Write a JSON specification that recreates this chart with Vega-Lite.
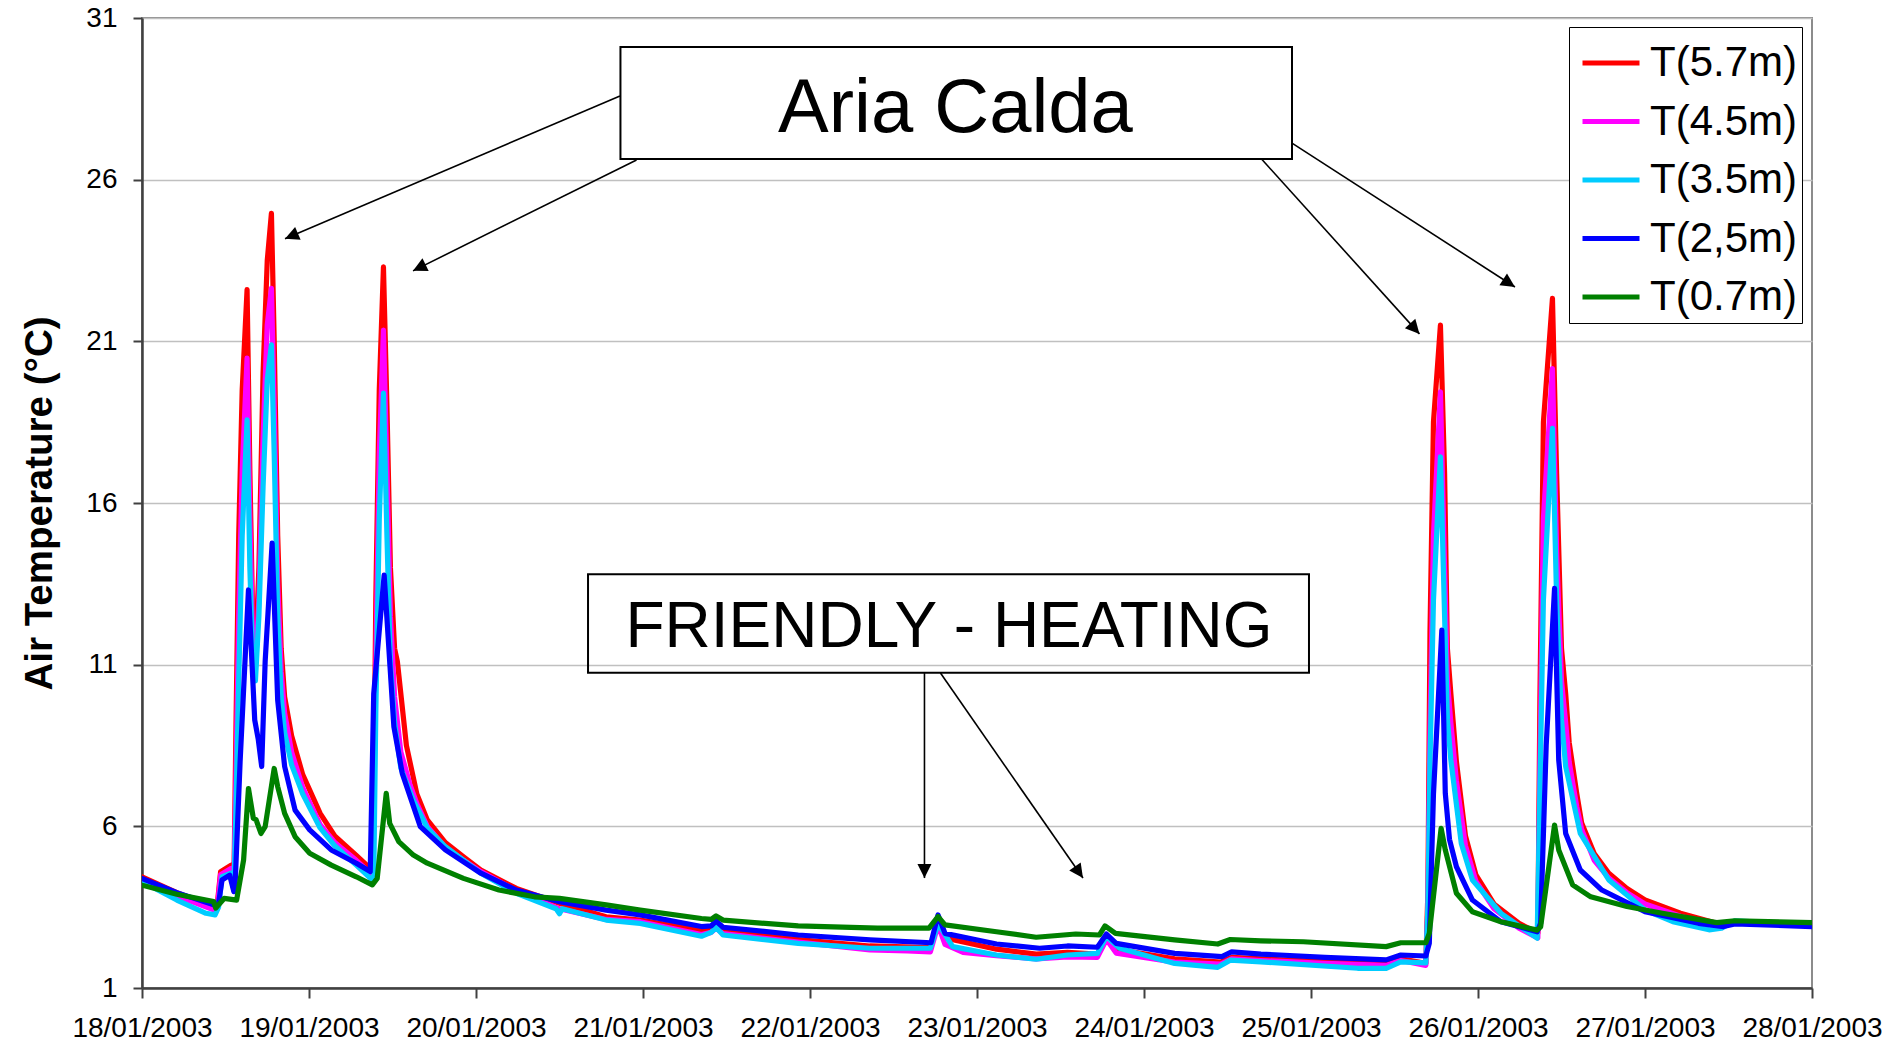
{
"$schema": "https://vega.github.io/schema/vega-lite/v6.json",
"width": 1670, "height": 970,
"autosize": {"type": "none"},
"padding": {"left": 142, "top": 18, "right": 76, "bottom": 55},
"background": "white",
"config": {"font": "Liberation Sans", "view": {"stroke": "#8c8c8c", "strokeWidth": 2}},
"datasets": {
"temps": [
{"s":"T(5.7m)","h":0,"t":4.44},{"s":"T(5.7m)","h":5,"t":3.95},{"s":"T(5.7m)","h":10.3,"t":3.52},{"s":"T(5.7m)","h":10.8,"t":3.55},{"s":"T(5.7m)","h":11.3,"t":4.6},{"s":"T(5.7m)","h":12.8,"t":4.8},{"s":"T(5.7m)","h":13.2,"t":4.15},{"s":"T(5.7m)","h":13.5,"t":9},{"s":"T(5.7m)","h":13.9,"t":15},{"s":"T(5.7m)","h":14.4,"t":19.5},{"s":"T(5.7m)","h":15.1,"t":22.6},{"s":"T(5.7m)","h":15.5,"t":17},{"s":"T(5.7m)","h":15.9,"t":12.5},{"s":"T(5.7m)","h":16.3,"t":11.2},{"s":"T(5.7m)","h":16.8,"t":14},{"s":"T(5.7m)","h":17.4,"t":20},{"s":"T(5.7m)","h":18.0,"t":23.5},{"s":"T(5.7m)","h":18.6,"t":24.96},{"s":"T(5.7m)","h":19.0,"t":21},{"s":"T(5.7m)","h":19.5,"t":15},{"s":"T(5.7m)","h":20.0,"t":11.5},{"s":"T(5.7m)","h":20.5,"t":10},{"s":"T(5.7m)","h":21.5,"t":8.8},{"s":"T(5.7m)","h":23.1,"t":7.6},{"s":"T(5.7m)","h":25.6,"t":6.4},{"s":"T(5.7m)","h":27.7,"t":5.7},{"s":"T(5.7m)","h":30.8,"t":5.1},{"s":"T(5.7m)","h":32.8,"t":4.7},{"s":"T(5.7m)","h":33.2,"t":4.55},{"s":"T(5.7m)","h":33.6,"t":13},{"s":"T(5.7m)","h":34.1,"t":19.5},{"s":"T(5.7m)","h":34.7,"t":23.3},{"s":"T(5.7m)","h":35.2,"t":19},{"s":"T(5.7m)","h":35.7,"t":14},{"s":"T(5.7m)","h":36.3,"t":11.5},{"s":"T(5.7m)","h":36.7,"t":11.1},{"s":"T(5.7m)","h":38,"t":8.5},{"s":"T(5.7m)","h":39.5,"t":7.0},{"s":"T(5.7m)","h":41,"t":6.2},{"s":"T(5.7m)","h":43.6,"t":5.5},{"s":"T(5.7m)","h":46.2,"t":5.06},{"s":"T(5.7m)","h":48.7,"t":4.65},{"s":"T(5.7m)","h":53.8,"t":4.08},{"s":"T(5.7m)","h":60,"t":3.62},{"s":"T(5.7m)","h":66.7,"t":3.2},{"s":"T(5.7m)","h":71.6,"t":3.1},{"s":"T(5.7m)","h":80.4,"t":2.78},{"s":"T(5.7m)","h":81.8,"t":2.8},{"s":"T(5.7m)","h":82.5,"t":2.9},{"s":"T(5.7m)","h":83.5,"t":2.75},{"s":"T(5.7m)","h":94.3,"t":2.5},{"s":"T(5.7m)","h":104.6,"t":2.3},{"s":"T(5.7m)","h":113.3,"t":2.25},{"s":"T(5.7m)","h":114.4,"t":3.1},{"s":"T(5.7m)","h":115.4,"t":2.55},{"s":"T(5.7m)","h":122.8,"t":2.2},{"s":"T(5.7m)","h":128.5,"t":2.05},{"s":"T(5.7m)","h":133,"t":2.1},{"s":"T(5.7m)","h":137.3,"t":2.05},{"s":"T(5.7m)","h":138.6,"t":2.6},{"s":"T(5.7m)","h":140,"t":2.2},{"s":"T(5.7m)","h":148.4,"t":1.9},{"s":"T(5.7m)","h":155,"t":1.8},{"s":"T(5.7m)","h":156.6,"t":1.95},{"s":"T(5.7m)","h":160.8,"t":1.9},{"s":"T(5.7m)","h":170,"t":1.82},{"s":"T(5.7m)","h":178.8,"t":1.75},{"s":"T(5.7m)","h":180.9,"t":1.9},{"s":"T(5.7m)","h":184.5,"t":1.76},{"s":"T(5.7m)","h":184.8,"t":4},{"s":"T(5.7m)","h":185.1,"t":12},{"s":"T(5.7m)","h":185.6,"t":18.5},{"s":"T(5.7m)","h":186.6,"t":21.5},{"s":"T(5.7m)","h":187.2,"t":16.9},{"s":"T(5.7m)","h":187.6,"t":11.5},{"s":"T(5.7m)","h":188.1,"t":10.1},{"s":"T(5.7m)","h":188.9,"t":8.0},{"s":"T(5.7m)","h":190.2,"t":5.7},{"s":"T(5.7m)","h":191.7,"t":4.5},{"s":"T(5.7m)","h":194.3,"t":3.6},{"s":"T(5.7m)","h":197.9,"t":3.0},{"s":"T(5.7m)","h":200.6,"t":2.7},{"s":"T(5.7m)","h":200.9,"t":10},{"s":"T(5.7m)","h":201.4,"t":18.5},{"s":"T(5.7m)","h":202.7,"t":22.33},{"s":"T(5.7m)","h":203.3,"t":16.9},{"s":"T(5.7m)","h":204.0,"t":11.5},{"s":"T(5.7m)","h":204.6,"t":10.1},{"s":"T(5.7m)","h":205.1,"t":8.6},{"s":"T(5.7m)","h":206.2,"t":7.0},{"s":"T(5.7m)","h":206.9,"t":6.1},{"s":"T(5.7m)","h":208.7,"t":5.16},{"s":"T(5.7m)","h":210.8,"t":4.55},{"s":"T(5.7m)","h":213.4,"t":4.08},{"s":"T(5.7m)","h":216,"t":3.72},{"s":"T(5.7m)","h":221.1,"t":3.31},{"s":"T(5.7m)","h":226.3,"t":3.0},{"s":"T(5.7m)","h":228.9,"t":3.05},{"s":"T(5.7m)","h":240,"t":2.95},

{"s":"T(4.5m)","h":0,"t":4.35},{"s":"T(4.5m)","h":5,"t":3.85},{"s":"T(4.5m)","h":10.3,"t":3.42},{"s":"T(4.5m)","h":10.8,"t":3.45},{"s":"T(4.5m)","h":11.3,"t":4.5},{"s":"T(4.5m)","h":12.8,"t":4.7},{"s":"T(4.5m)","h":13.2,"t":4.1},{"s":"T(4.5m)","h":13.5,"t":7.5},{"s":"T(4.5m)","h":13.9,"t":12.5},{"s":"T(4.5m)","h":14.4,"t":17},{"s":"T(4.5m)","h":15.1,"t":20.48},{"s":"T(4.5m)","h":15.5,"t":15.5},{"s":"T(4.5m)","h":15.9,"t":11.8},{"s":"T(4.5m)","h":16.3,"t":10.9},{"s":"T(4.5m)","h":16.8,"t":13},{"s":"T(4.5m)","h":17.4,"t":18},{"s":"T(4.5m)","h":18.0,"t":21.5},{"s":"T(4.5m)","h":18.6,"t":22.64},{"s":"T(4.5m)","h":19.0,"t":19},{"s":"T(4.5m)","h":19.5,"t":13.5},{"s":"T(4.5m)","h":20.0,"t":10.8},{"s":"T(4.5m)","h":20.5,"t":9.5},{"s":"T(4.5m)","h":21.5,"t":8.3},{"s":"T(4.5m)","h":23.1,"t":7.2},{"s":"T(4.5m)","h":25.6,"t":6.05},{"s":"T(4.5m)","h":27.7,"t":5.5},{"s":"T(4.5m)","h":30.8,"t":4.95},{"s":"T(4.5m)","h":32.8,"t":4.55},{"s":"T(4.5m)","h":33.2,"t":4.45},{"s":"T(4.5m)","h":33.6,"t":11},{"s":"T(4.5m)","h":34.1,"t":17.5},{"s":"T(4.5m)","h":34.7,"t":21.35},{"s":"T(4.5m)","h":35.2,"t":17},{"s":"T(4.5m)","h":35.7,"t":12.5},{"s":"T(4.5m)","h":36.3,"t":10},{"s":"T(4.5m)","h":37.2,"t":8.3},{"s":"T(4.5m)","h":38.5,"t":7.3},{"s":"T(4.5m)","h":39.5,"t":6.7},{"s":"T(4.5m)","h":41,"t":6.0},{"s":"T(4.5m)","h":43.6,"t":5.35},{"s":"T(4.5m)","h":46.2,"t":4.95},{"s":"T(4.5m)","h":48.7,"t":4.6},{"s":"T(4.5m)","h":53.8,"t":4.0},{"s":"T(4.5m)","h":60,"t":3.45},{"s":"T(4.5m)","h":66.7,"t":3.12},{"s":"T(4.5m)","h":71.6,"t":3.05},{"s":"T(4.5m)","h":80.4,"t":2.65},{"s":"T(4.5m)","h":81.8,"t":2.72},{"s":"T(4.5m)","h":82.5,"t":2.85},{"s":"T(4.5m)","h":83.5,"t":2.68},{"s":"T(4.5m)","h":94.3,"t":2.42},{"s":"T(4.5m)","h":104.6,"t":2.18},{"s":"T(4.5m)","h":110,"t":2.15},{"s":"T(4.5m)","h":113.3,"t":2.12},{"s":"T(4.5m)","h":114.4,"t":2.95},{"s":"T(4.5m)","h":115.4,"t":2.35},{"s":"T(4.5m)","h":118,"t":2.1},{"s":"T(4.5m)","h":122.8,"t":2.0},{"s":"T(4.5m)","h":128.5,"t":1.9},{"s":"T(4.5m)","h":133,"t":1.96},{"s":"T(4.5m)","h":137.3,"t":1.95},{"s":"T(4.5m)","h":138.6,"t":2.5},{"s":"T(4.5m)","h":140,"t":2.08},{"s":"T(4.5m)","h":148.4,"t":1.8},{"s":"T(4.5m)","h":155,"t":1.74},{"s":"T(4.5m)","h":156.6,"t":1.9},{"s":"T(4.5m)","h":160.8,"t":1.85},{"s":"T(4.5m)","h":170,"t":1.76},{"s":"T(4.5m)","h":178.8,"t":1.7},{"s":"T(4.5m)","h":180.9,"t":1.85},{"s":"T(4.5m)","h":184.5,"t":1.7},{"s":"T(4.5m)","h":184.8,"t":3.5},{"s":"T(4.5m)","h":185.1,"t":9},{"s":"T(4.5m)","h":185.6,"t":15},{"s":"T(4.5m)","h":186.6,"t":19.44},{"s":"T(4.5m)","h":187.2,"t":14},{"s":"T(4.5m)","h":187.6,"t":10.5},{"s":"T(4.5m)","h":188.1,"t":9.2},{"s":"T(4.5m)","h":188.9,"t":7.4},{"s":"T(4.5m)","h":190.2,"t":5.4},{"s":"T(4.5m)","h":191.7,"t":4.3},{"s":"T(4.5m)","h":194.3,"t":3.45},{"s":"T(4.5m)","h":197.9,"t":2.85},{"s":"T(4.5m)","h":200.6,"t":2.55},{"s":"T(4.5m)","h":200.9,"t":8},{"s":"T(4.5m)","h":201.4,"t":15.5},{"s":"T(4.5m)","h":202.7,"t":20.16},{"s":"T(4.5m)","h":203.3,"t":14.5},{"s":"T(4.5m)","h":204.0,"t":10.5},{"s":"T(4.5m)","h":204.6,"t":9.2},{"s":"T(4.5m)","h":205.1,"t":8.0},{"s":"T(4.5m)","h":206.2,"t":6.6},{"s":"T(4.5m)","h":206.9,"t":5.9},{"s":"T(4.5m)","h":208.7,"t":4.95},{"s":"T(4.5m)","h":210.8,"t":4.4},{"s":"T(4.5m)","h":213.4,"t":3.95},{"s":"T(4.5m)","h":216,"t":3.6},{"s":"T(4.5m)","h":221.1,"t":3.22},{"s":"T(4.5m)","h":226.3,"t":2.9},{"s":"T(4.5m)","h":228.9,"t":3.02},{"s":"T(4.5m)","h":240,"t":2.95},

{"s":"T(3.5m)","h":0,"t":4.29},{"s":"T(3.5m)","h":5,"t":3.72},{"s":"T(3.5m)","h":9.2,"t":3.31},{"s":"T(3.5m)","h":10.5,"t":3.26},{"s":"T(3.5m)","h":11.0,"t":3.5},{"s":"T(3.5m)","h":11.5,"t":4.44},{"s":"T(3.5m)","h":12.8,"t":4.55},{"s":"T(3.5m)","h":13.2,"t":4.03},{"s":"T(3.5m)","h":13.5,"t":6.5},{"s":"T(3.5m)","h":13.9,"t":10.5},{"s":"T(3.5m)","h":14.4,"t":15},{"s":"T(3.5m)","h":15.1,"t":18.57},{"s":"T(3.5m)","h":15.5,"t":14},{"s":"T(3.5m)","h":15.9,"t":11.2},{"s":"T(3.5m)","h":16.3,"t":10.5},{"s":"T(3.5m)","h":16.8,"t":12.5},{"s":"T(3.5m)","h":17.4,"t":16.5},{"s":"T(3.5m)","h":18.0,"t":19.8},{"s":"T(3.5m)","h":18.6,"t":20.89},{"s":"T(3.5m)","h":19.0,"t":17.5},{"s":"T(3.5m)","h":19.5,"t":12.5},{"s":"T(3.5m)","h":20.0,"t":10.0},{"s":"T(3.5m)","h":20.5,"t":8.9},{"s":"T(3.5m)","h":21.5,"t":7.9},{"s":"T(3.5m)","h":23.1,"t":7.0},{"s":"T(3.5m)","h":25.6,"t":5.95},{"s":"T(3.5m)","h":27.7,"t":5.4},{"s":"T(3.5m)","h":30.8,"t":4.8},{"s":"T(3.5m)","h":32.8,"t":4.4},{"s":"T(3.5m)","h":33.3,"t":4.3},{"s":"T(3.5m)","h":33.6,"t":9.5},{"s":"T(3.5m)","h":34.1,"t":15.5},{"s":"T(3.5m)","h":34.7,"t":19.4},{"s":"T(3.5m)","h":35.2,"t":15},{"s":"T(3.5m)","h":35.7,"t":11},{"s":"T(3.5m)","h":36.3,"t":9.2},{"s":"T(3.5m)","h":37.2,"t":7.8},{"s":"T(3.5m)","h":39,"t":6.8},{"s":"T(3.5m)","h":41,"t":5.95},{"s":"T(3.5m)","h":43.6,"t":5.37},{"s":"T(3.5m)","h":48.7,"t":4.55},{"s":"T(3.5m)","h":53.8,"t":3.93},{"s":"T(3.5m)","h":59.5,"t":3.45},{"s":"T(3.5m)","h":60,"t":3.3},{"s":"T(3.5m)","h":60.4,"t":3.45},{"s":"T(3.5m)","h":66.7,"t":3.1},{"s":"T(3.5m)","h":71.6,"t":3.0},{"s":"T(3.5m)","h":80.4,"t":2.6},{"s":"T(3.5m)","h":81.8,"t":2.72},{"s":"T(3.5m)","h":82.5,"t":2.88},{"s":"T(3.5m)","h":83.5,"t":2.64},{"s":"T(3.5m)","h":94.3,"t":2.38},{"s":"T(3.5m)","h":104.6,"t":2.23},{"s":"T(3.5m)","h":113.3,"t":2.23},{"s":"T(3.5m)","h":114.4,"t":2.99},{"s":"T(3.5m)","h":116.5,"t":2.28},{"s":"T(3.5m)","h":122.8,"t":2.02},{"s":"T(3.5m)","h":128.5,"t":1.89},{"s":"T(3.5m)","h":133,"t":2.02},{"s":"T(3.5m)","h":137.3,"t":2.07},{"s":"T(3.5m)","h":138.6,"t":2.59},{"s":"T(3.5m)","h":140.5,"t":2.23},{"s":"T(3.5m)","h":148.4,"t":1.76},{"s":"T(3.5m)","h":154.6,"t":1.64},{"s":"T(3.5m)","h":156.4,"t":1.86},{"s":"T(3.5m)","h":160.8,"t":1.81},{"s":"T(3.5m)","h":174.7,"t":1.61},{"s":"T(3.5m)","h":178.8,"t":1.61},{"s":"T(3.5m)","h":180.9,"t":1.81},{"s":"T(3.5m)","h":184.5,"t":1.78},{"s":"T(3.5m)","h":184.8,"t":3.5},{"s":"T(3.5m)","h":185.1,"t":8},{"s":"T(3.5m)","h":185.6,"t":13},{"s":"T(3.5m)","h":186.6,"t":17.43},{"s":"T(3.5m)","h":187.2,"t":12.5},{"s":"T(3.5m)","h":187.6,"t":9.3},{"s":"T(3.5m)","h":188.1,"t":8.05},{"s":"T(3.5m)","h":189.6,"t":5.47},{"s":"T(3.5m)","h":191.2,"t":4.34},{"s":"T(3.5m)","h":195.3,"t":3.31},{"s":"T(3.5m)","h":200.5,"t":2.54},{"s":"T(3.5m)","h":200.8,"t":6},{"s":"T(3.5m)","h":201.4,"t":13},{"s":"T(3.5m)","h":202.7,"t":18.31},{"s":"T(3.5m)","h":203.3,"t":13},{"s":"T(3.5m)","h":204.0,"t":9.3},{"s":"T(3.5m)","h":204.6,"t":7.85},{"s":"T(3.5m)","h":206.7,"t":5.78},{"s":"T(3.5m)","h":210.8,"t":4.34},{"s":"T(3.5m)","h":216,"t":3.41},{"s":"T(3.5m)","h":220,"t":3.05},{"s":"T(3.5m)","h":225.2,"t":2.8},{"s":"T(3.5m)","h":227,"t":2.85},{"s":"T(3.5m)","h":228.9,"t":3.08},{"s":"T(3.5m)","h":240,"t":2.95},

{"s":"T(2,5m)","h":0,"t":4.39},{"s":"T(2,5m)","h":5,"t":3.95},{"s":"T(2,5m)","h":10.3,"t":3.57},{"s":"T(2,5m)","h":11.0,"t":3.62},{"s":"T(2,5m)","h":11.5,"t":4.34},{"s":"T(2,5m)","h":12.6,"t":4.49},{"s":"T(2,5m)","h":13.2,"t":3.98},{"s":"T(2,5m)","h":13.4,"t":4.3},{"s":"T(2,5m)","h":14.1,"t":8.0},{"s":"T(2,5m)","h":15.3,"t":13.31},{"s":"T(2,5m)","h":16.2,"t":9.29},{"s":"T(2,5m)","h":16.7,"t":8.7},{"s":"T(2,5m)","h":17.2,"t":7.85},{"s":"T(2,5m)","h":17.7,"t":11.1},{"s":"T(2,5m)","h":18.7,"t":14.76},{"s":"T(2,5m)","h":19.5,"t":9.9},{"s":"T(2,5m)","h":20.5,"t":7.85},{"s":"T(2,5m)","h":22,"t":6.5},{"s":"T(2,5m)","h":24.1,"t":5.89},{"s":"T(2,5m)","h":27.2,"t":5.27},{"s":"T(2,5m)","h":30.8,"t":4.86},{"s":"T(2,5m)","h":32.8,"t":4.6},{"s":"T(2,5m)","h":33.3,"t":10.1},{"s":"T(2,5m)","h":34.8,"t":13.77},{"s":"T(2,5m)","h":36.2,"t":9.08},{"s":"T(2,5m)","h":37.4,"t":7.64},{"s":"T(2,5m)","h":40,"t":5.99},{"s":"T(2,5m)","h":43.6,"t":5.27},{"s":"T(2,5m)","h":48.7,"t":4.55},{"s":"T(2,5m)","h":53.8,"t":4.03},{"s":"T(2,5m)","h":60,"t":3.67},{"s":"T(2,5m)","h":66.7,"t":3.41},{"s":"T(2,5m)","h":71.6,"t":3.26},{"s":"T(2,5m)","h":80.4,"t":2.9},{"s":"T(2,5m)","h":81.8,"t":2.92},{"s":"T(2,5m)","h":82.5,"t":3.07},{"s":"T(2,5m)","h":83.5,"t":2.88},{"s":"T(2,5m)","h":94.3,"t":2.64},{"s":"T(2,5m)","h":104.6,"t":2.49},{"s":"T(2,5m)","h":113.4,"t":2.4},{"s":"T(2,5m)","h":114.4,"t":3.26},{"s":"T(2,5m)","h":115.4,"t":2.69},{"s":"T(2,5m)","h":122.8,"t":2.36},{"s":"T(2,5m)","h":129,"t":2.23},{"s":"T(2,5m)","h":133,"t":2.3},{"s":"T(2,5m)","h":137.3,"t":2.26},{"s":"T(2,5m)","h":138.6,"t":2.67},{"s":"T(2,5m)","h":140,"t":2.38},{"s":"T(2,5m)","h":148.4,"t":2.07},{"s":"T(2,5m)","h":155.2,"t":1.97},{"s":"T(2,5m)","h":156.6,"t":2.12},{"s":"T(2,5m)","h":160.8,"t":2.05},{"s":"T(2,5m)","h":170,"t":1.95},{"s":"T(2,5m)","h":178.8,"t":1.87},{"s":"T(2,5m)","h":180.9,"t":2.02},{"s":"T(2,5m)","h":184.5,"t":1.99},{"s":"T(2,5m)","h":185,"t":2.38},{"s":"T(2,5m)","h":185.6,"t":7.0},{"s":"T(2,5m)","h":186.8,"t":12.07},{"s":"T(2,5m)","h":187.3,"t":7.02},{"s":"T(2,5m)","h":187.9,"t":5.6},{"s":"T(2,5m)","h":188.9,"t":4.75},{"s":"T(2,5m)","h":191.2,"t":3.72},{"s":"T(2,5m)","h":195.3,"t":3.05},{"s":"T(2,5m)","h":200.5,"t":2.74},{"s":"T(2,5m)","h":201,"t":3.0},{"s":"T(2,5m)","h":201.8,"t":8.5},{"s":"T(2,5m)","h":203,"t":13.36},{"s":"T(2,5m)","h":203.6,"t":8.05},{"s":"T(2,5m)","h":204.6,"t":5.78},{"s":"T(2,5m)","h":206.7,"t":4.65},{"s":"T(2,5m)","h":209.8,"t":4.03},{"s":"T(2,5m)","h":216,"t":3.36},{"s":"T(2,5m)","h":223.7,"t":3.0},{"s":"T(2,5m)","h":227.3,"t":2.9},{"s":"T(2,5m)","h":228.9,"t":2.98},{"s":"T(2,5m)","h":240,"t":2.9},

{"s":"T(0.7m)","h":0,"t":4.18},{"s":"T(0.7m)","h":5,"t":3.9},{"s":"T(0.7m)","h":10.3,"t":3.67},{"s":"T(0.7m)","h":10.6,"t":3.47},{"s":"T(0.7m)","h":11.8,"t":3.77},{"s":"T(0.7m)","h":13.6,"t":3.72},{"s":"T(0.7m)","h":14.6,"t":4.96},{"s":"T(0.7m)","h":15.3,"t":7.17},{"s":"T(0.7m)","h":16.0,"t":6.25},{"s":"T(0.7m)","h":16.4,"t":6.2},{"s":"T(0.7m)","h":17.1,"t":5.78},{"s":"T(0.7m)","h":17.7,"t":5.99},{"s":"T(0.7m)","h":19.0,"t":7.79},{"s":"T(0.7m)","h":19.5,"t":7.23},{"s":"T(0.7m)","h":20.5,"t":6.4},{"s":"T(0.7m)","h":22,"t":5.68},{"s":"T(0.7m)","h":24.1,"t":5.17},{"s":"T(0.7m)","h":27.2,"t":4.8},{"s":"T(0.7m)","h":30.8,"t":4.44},{"s":"T(0.7m)","h":33.1,"t":4.19},{"s":"T(0.7m)","h":33.8,"t":4.39},{"s":"T(0.7m)","h":35.1,"t":7.02},{"s":"T(0.7m)","h":35.6,"t":6.09},{"s":"T(0.7m)","h":36.9,"t":5.53},{"s":"T(0.7m)","h":39,"t":5.11},{"s":"T(0.7m)","h":41,"t":4.86},{"s":"T(0.7m)","h":46.2,"t":4.39},{"s":"T(0.7m)","h":51.3,"t":4.03},{"s":"T(0.7m)","h":56.4,"t":3.82},{"s":"T(0.7m)","h":60,"t":3.77},{"s":"T(0.7m)","h":66.7,"t":3.57},{"s":"T(0.7m)","h":71.6,"t":3.41},{"s":"T(0.7m)","h":80.4,"t":3.15},{"s":"T(0.7m)","h":81.8,"t":3.12},{"s":"T(0.7m)","h":82.5,"t":3.23},{"s":"T(0.7m)","h":83.5,"t":3.1},{"s":"T(0.7m)","h":94.3,"t":2.92},{"s":"T(0.7m)","h":105.7,"t":2.85},{"s":"T(0.7m)","h":113.1,"t":2.85},{"s":"T(0.7m)","h":114.4,"t":3.21},{"s":"T(0.7m)","h":115.4,"t":2.95},{"s":"T(0.7m)","h":122.8,"t":2.74},{"s":"T(0.7m)","h":128.5,"t":2.57},{"s":"T(0.7m)","h":134.2,"t":2.67},{"s":"T(0.7m)","h":137.6,"t":2.64},{"s":"T(0.7m)","h":138.4,"t":2.92},{"s":"T(0.7m)","h":139.9,"t":2.69},{"s":"T(0.7m)","h":148.4,"t":2.49},{"s":"T(0.7m)","h":154.6,"t":2.36},{"s":"T(0.7m)","h":156.4,"t":2.5},{"s":"T(0.7m)","h":160.8,"t":2.46},{"s":"T(0.7m)","h":166.9,"t":2.43},{"s":"T(0.7m)","h":178.8,"t":2.28},{"s":"T(0.7m)","h":180.9,"t":2.4},{"s":"T(0.7m)","h":184.5,"t":2.4},{"s":"T(0.7m)","h":185,"t":2.69},{"s":"T(0.7m)","h":186.7,"t":5.94},{"s":"T(0.7m)","h":187.3,"t":5.27},{"s":"T(0.7m)","h":188.9,"t":3.93},{"s":"T(0.7m)","h":191.2,"t":3.36},{"s":"T(0.7m)","h":195.3,"t":3.05},{"s":"T(0.7m)","h":200.5,"t":2.79},{"s":"T(0.7m)","h":201,"t":2.89},{"s":"T(0.7m)","h":203,"t":6.04},{"s":"T(0.7m)","h":203.6,"t":5.27},{"s":"T(0.7m)","h":205.6,"t":4.19},{"s":"T(0.7m)","h":208.2,"t":3.82},{"s":"T(0.7m)","h":213.4,"t":3.52},{"s":"T(0.7m)","h":218.5,"t":3.31},{"s":"T(0.7m)","h":226.3,"t":3.02},{"s":"T(0.7m)","h":228.9,"t":3.08},{"s":"T(0.7m)","h":240,"t":3.02}
],
"boxes": [
{"h1": 68.76, "h2": 165.27, "t1": 30.10, "t2": 26.64},
{"h1": 64.10, "h2": 167.71, "t1": 13.80, "t2": 10.75}
],
"arrows": [
{"h1": 68.69, "t1": 28.59, "h2": 20.55, "t2": 24.17},
{"h1": 71.07, "t1": 26.61, "h2": 38.95, "t2": 23.18},
{"h1": 160.89, "t1": 26.64, "h2": 183.59, "t2": 21.23},
{"h1": 165.27, "t1": 27.13, "h2": 197.31, "t2": 22.68},
{"h1": 112.45, "t1": 10.74, "h2": 112.45, "t2": 4.40},
{"h1": 114.75, "t1": 10.74, "h2": 135.23, "t2": 4.40}
]
},
"layer": [
{
"data": {"name": "temps"},
"mark": {"type": "line", "strokeWidth": 5.2, "strokeJoin": "round", "strokeCap": "round", "clip": true},
"encoding": {
"x": {"field": "h", "type": "quantitative",
 "scale": {"domain": [0, 240], "nice": false, "zero": false},
 "axis": {"values": [0,24,48,72,96,120,144,168,192,216,240],
  "labelExpr": "timeFormat(datetime(2003, 0, 18 + datum.value / 24), '%d/%m/%Y')",
  "title": null, "grid": false, "labelFontSize": 28, "labelColor": "black",
  "labelFont": "Liberation Sans",
  "domainColor": "#404040", "domainWidth": 2.5, "tickColor": "#404040", "tickWidth": 2,
  "tickSize": 10, "labelPadding": 16, "labelFlush": false, "labelOverlap": false, "labelBound": false}},
"y": {"field": "t", "type": "quantitative",
 "scale": {"domain": [1, 31], "nice": false, "zero": false},
 "axis": {"values": [1,6,11,16,21,26,31], "title": "Air Temperature (°C)",
  "titleFontSize": 38.5, "titleFontWeight": "bold", "titleColor": "black", "titleFont": "Liberation Sans",
  "titleX": -103, "titleY": 485, "titleAngle": -90, "titleAlign": "center", "titleBaseline": "middle",
  "grid": true, "gridColor": "#c0c0c0", "gridWidth": 1.5,
  "labelFontSize": 28, "labelColor": "black", "labelFont": "Liberation Sans",
  "domainColor": "#404040", "domainWidth": 2.5, "tickColor": "#404040", "tickWidth": 2,
  "tickSize": 9, "labelPadding": 16, "labelOverlap": false, "labelBound": false}},
"color": {"field": "s", "type": "nominal",
 "scale": {"domain": ["T(5.7m)", "T(4.5m)", "T(3.5m)", "T(2,5m)", "T(0.7m)"],
  "range": ["#ff0000", "#ff00ff", "#00ccff", "#0000ff", "#008000"]},
 "legend": {"orient": "none", "legendX": 1427, "legendY": 9, "title": null,
  "strokeColor": "black", "fillColor": "white", "padding": 5,
  "symbolType": "stroke", "symbolSize": 3249, "symbolStrokeWidth": 5, "symbolOffset": 6,
  "labelFontSize": 42, "labelFont": "Liberation Sans", "labelColor": "black", "labelOffset": 8,
  "rowPadding": 6.5, "labelLimit": 400}}
}
},
{
"data": {"name": "boxes"},
"mark": {"type": "rect", "fillOpacity": 0, "stroke": "black", "strokeWidth": 2},
"encoding": {
"x": {"field": "h1", "type": "quantitative"},
"x2": {"field": "h2"},
"y": {"field": "t1", "type": "quantitative"},
"y2": {"field": "t2"}
}
},
{
"data": {"name": "arrows"},
"mark": {"type": "rule", "color": "black", "strokeWidth": 1.6},
"encoding": {
"x": {"field": "h1", "type": "quantitative"},
"y": {"field": "t1", "type": "quantitative"},
"x2": {"field": "h2"},
"y2": {"field": "t2"}
}
},
{"data": {"values": [{"h": 20.55, "t": 24.17}]}, "mark": {"type": "point", "shape": "M0,0L-0.5,-1L0.5,-1Z", "filled": true, "color": "black", "opacity": 1, "size": 784, "angle": 66.9}, "encoding": {"x": {"field": "h", "type": "quantitative"}, "y": {"field": "t", "type": "quantitative"}}},
{"data": {"values": [{"h": 38.95, "t": 23.18}]}, "mark": {"type": "point", "shape": "M0,0L-0.5,-1L0.5,-1Z", "filled": true, "color": "black", "opacity": 1, "size": 784, "angle": 63.6}, "encoding": {"x": {"field": "h", "type": "quantitative"}, "y": {"field": "t", "type": "quantitative"}}},
{"data": {"values": [{"h": 183.59, "t": 21.23}]}, "mark": {"type": "point", "shape": "M0,0L-0.5,-1L0.5,-1Z", "filled": true, "color": "black", "opacity": 1, "size": 784, "angle": -42}, "encoding": {"x": {"field": "h", "type": "quantitative"}, "y": {"field": "t", "type": "quantitative"}}},
{"data": {"values": [{"h": 197.31, "t": 22.68}]}, "mark": {"type": "point", "shape": "M0,0L-0.5,-1L0.5,-1Z", "filled": true, "color": "black", "opacity": 1, "size": 784, "angle": -57.1}, "encoding": {"x": {"field": "h", "type": "quantitative"}, "y": {"field": "t", "type": "quantitative"}}},
{"data": {"values": [{"h": 112.45, "t": 4.40}]}, "mark": {"type": "point", "shape": "M0,0L-0.5,-1L0.5,-1Z", "filled": true, "color": "black", "opacity": 1, "size": 784, "angle": 0}, "encoding": {"x": {"field": "h", "type": "quantitative"}, "y": {"field": "t", "type": "quantitative"}}},
{"data": {"values": [{"h": 135.23, "t": 4.40}]}, "mark": {"type": "point", "shape": "M0,0L-0.5,-1L0.5,-1Z", "filled": true, "color": "black", "opacity": 1, "size": 784, "angle": -34.9}, "encoding": {"x": {"field": "h", "type": "quantitative"}, "y": {"field": "t", "type": "quantitative"}}},
{"data": {"values": [{"h": 116.9, "t": 27.48, "label": "Aria Calda"}]}, "mark": {"type": "text", "fontSize": 76, "font": "Liberation Sans", "color": "black", "align": "center", "baseline": "alphabetic"}, "encoding": {"x": {"field": "h", "type": "quantitative"}, "y": {"field": "t", "type": "quantitative"}, "text": {"field": "label"}}},
{"data": {"values": [{"h": 115.98, "t": 11.54, "label": "FRIENDLY - HEATING"}]}, "mark": {"type": "text", "fontSize": 64, "font": "Liberation Sans", "color": "black", "align": "center", "baseline": "alphabetic"}, "encoding": {"x": {"field": "h", "type": "quantitative"}, "y": {"field": "t", "type": "quantitative"}, "text": {"field": "label"}}}
]
}
